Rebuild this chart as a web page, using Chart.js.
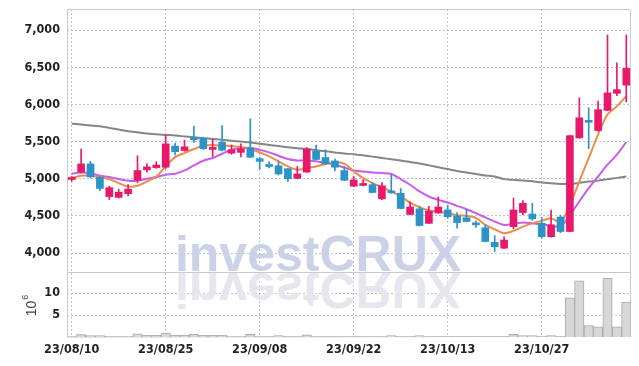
<!DOCTYPE html>
<html lang="en">
<head>
<meta charset="UTF-8">
<title>investCRUX daily chart</title>
<script src="https://cdn.jsdelivr.net/npm/chart.js"></script>
<style>
  html, body { margin: 0; padding: 0; background: #fff; }
  .ctn { width: 639px; height: 366px; }
</style>
</head>
<body>
<div class="ctn"><canvas id="myChart"></canvas></div>
<script>
// trading days, 23/08/10 .. 23/11/09
const dates = [
  '23/08/10','23/08/11','23/08/14','23/08/16','23/08/17','23/08/18','23/08/21','23/08/22','23/08/23','23/08/24',
  '23/08/25','23/08/28','23/08/29','23/08/30','23/08/31','23/09/01','23/09/04','23/09/05','23/09/06','23/09/07',
  '23/09/08','23/09/11','23/09/12','23/09/13','23/09/14','23/09/15','23/09/18','23/09/19','23/09/20','23/09/21',
  '23/09/22','23/09/25','23/09/26','23/09/27','23/10/04','23/10/05','23/10/06','23/10/10','23/10/11','23/10/12',
  '23/10/13','23/10/16','23/10/17','23/10/18','23/10/19','23/10/20','23/10/23','23/10/24','23/10/25','23/10/26',
  '23/10/27','23/10/30','23/10/31','23/11/01','23/11/02','23/11/03','23/11/06','23/11/07','23/11/08','23/11/09'
];
const opens  = [4990,5090,5200,5020,4760,4750,4800,4980,5120,5150, 5155,5440,5380,5545,5545,5395,5490,5345,5355,5415,
                5270,5190,5175,5135,5005,5090,5370,5285,5240,5110, 4900,4910,4920,4730,4820,4805,4520,4595,4400,4540,
                4580,4500,4475,4400,4340,4145,4065,4355,4545,4525, 4400,4220,4485,4290,5550,5770,5650,5920,6150,6260];
const highs  = [5030,5400,5235,5030,4900,4860,4920,5310,5200,5230, 5590,5480,5520,5710,5560,5530,5715,5455,5470,5805,
                5290,5230,5240,5140,5165,5420,5455,5390,5265,5165, 5030,4985,4950,4950,5055,4870,4690,4630,4630,4755,
                4645,4545,4580,4435,4380,4235,4220,4740,4705,4670, 4480,4580,4510,5585,6090,5955,6045,6935,6560,6935];
const lows   = [4965,5080,5010,4840,4720,4740,4770,4950,5090,5140, 5140,5320,5370,5490,5395,5300,5375,5330,5295,5285,
                5130,5145,5050,4960,5000,5085,5255,5195,5105,4975, 4895,4905,4810,4720,4805,4595,4515,4365,4395,4535,
                4470,4335,4420,4345,4150,4020,4060,4330,4515,4440, 4200,4215,4275,4285,5545,5405,5640,5915,6120,6035];
const closes = [5010,5200,5025,4870,4880,4820,4860,5110,5160,5185, 5470,5365,5430,5525,5405,5415,5385,5390,5405,5290,
                5235,5165,5065,5000,5065,5400,5260,5200,5155,4980, 4985,4935,4815,4905,4810,4600,4620,4370,4565,4620,
                4490,4410,4425,4380,4155,4085,4175,4580,4670,4460, 4220,4380,4290,5580,5820,5760,5930,6155,6200,6485];
// volume, in 10^6 shares
const volumes = [0.1,0.55,0.3,0.3,0.1,0.1,0.1,0.7,0.4,0.4, 0.9,0.4,0.4,0.6,0.4,0.4,0.4,0.1,0.1,0.6,
                 0.1,0.1,0.3,0.1,0.1,0.5,0.1,0.1,0.1,0.1, 0.1,0.1,0.1,0.1,0.3,0.1,0.1,0.3,0.1,0.1,
                 0.1,0.1,0.1,0.1,0.1,0.1,0.1,0.6,0.3,0.3, 0.1,0.3,0.1,8.9,12.8,2.6,2.3,13.4,2.3,7.95];
// moving averages
const maShort = [5009,5040,5040,5023,4996,4942,4896,4905,4964,5031, 5166,5292,5346,5400,5445,5453,5445,5440,5423,5400,
                 5355,5301,5234,5166,5121,5144,5166,5198,5220,5205, 5099,5009,4942,4888,4829,4761,4680,4618,4572,4554,
                 4537,4510,4500,4473,4379,4320,4267,4298,4356,4400, 4433,4469,4415,4649,4964,5279,5594,5864,5976,6111];
const maMid   = [5067,5085,5076,5040,5023,4996,4973,4973,5000,5023, 5054,5067,5112,5180,5243,5279,5337,5391,5414,5414,
                 5391,5355,5310,5266,5247,5247,5234,5220,5189,5150, 5112,5099,5085,5076,5065,4996,4919,4829,4761,4716,
                 4680,4635,4590,4537,4480,4424,4379,4392,4410,4400, 4388,4370,4356,4514,4694,4874,5031,5189,5324,5495];
const maLong  = [5742,5730,5718,5706,5685,5662,5640,5625,5610,5598, 5590,5582,5570,5558,5546,5536,5525,5512,5500,5488,
                 5470,5455,5440,5425,5412,5400,5385,5370,5355,5340, 5330,5315,5298,5280,5262,5245,5225,5205,5180,5155,
                 5130,5105,5085,5065,5045,5030,4995,4985,4975,4965, 4950,4940,4930,4930,4945,4962,4975,4995,5012,5031];
const priceTicks = [4000, 4500, 5000, 5500, 6000, 6500, 7000];
const volumeTicks = [5, 10];

const upColor = '#e8196b';
const downColor = '#2b93c8';
const candleColors = closes.map((c, i) => c >= opens[i] ? upColor : downColor);
const gridColor = 'rgba(175,182,208,0.8)';
const tickFont = { family: "'DejaVu Sans Condensed', 'DejaVu Sans', sans-serif", size: 12.5, weight: 'bold' };

const watermark = {
  id: 'watermark',
  beforeDatasetsDraw(chart) {
    const ctx = chart.ctx;
    const yb = chart.scales.y.bottom;
    const cx = 318;
    ctx.save();
    ctx.font = "bold 50px 'Liberation Sans', Arial, sans-serif";
    ctx.textAlign = 'center';
    ctx.textBaseline = 'alphabetic';
    ctx.fillStyle = 'rgb(203,210,231)';
    ctx.fillText('investCRUX', cx, yb - 1);
    // reflection
    ctx.beginPath();
    ctx.rect(chart.chartArea.left, yb, chart.chartArea.width, chart.chartArea.bottom - yb);
    ctx.clip();
    ctx.translate(0, 2 * yb + 1);
    ctx.scale(1, -1);
    ctx.fillStyle = 'rgb(229,230,238)';
    ctx.fillText('investCRUX', cx, yb);
    ctx.restore();
  }
};

const frame = {
  id: 'frame',
  beforeDatasetsDraw(chart) {
    const { ctx, chartArea: a } = chart;
    const sep = chart.scales.y.bottom;
    ctx.save();
    ctx.strokeStyle = '#c9c9c9';
    ctx.lineWidth = 1;
    ctx.beginPath();
    ctx.moveTo(a.left + 0.5, a.top + 0.5);
    ctx.lineTo(a.right - 0.5, a.top + 0.5);
    ctx.lineTo(a.right - 0.5, a.bottom - 0.5);
    ctx.moveTo(a.left + 0.5, a.top);
    ctx.lineTo(a.left + 0.5, a.bottom);
    ctx.lineTo(a.right, a.bottom - 0.5);
    ctx.moveTo(a.left, sep + 0.5);
    ctx.lineTo(a.right, sep + 0.5);
    ctx.stroke();
    ctx.restore();
  },
  afterDraw(chart) {
    // 10^6 unit label of the volume axis
    const ctx = chart.ctx;
    const yv = chart.scales.yv;
    ctx.save();
    ctx.translate(32, (yv.top + yv.bottom) / 2 + 1);
    ctx.rotate(-Math.PI / 2);
    ctx.fillStyle = '#444';
    ctx.textBaseline = 'middle';
    ctx.font = "14px 'Liberation Sans', sans-serif";
    const w = ctx.measureText('10').width;
    ctx.fillText('10', -w / 2 - 3, 0);
    ctx.font = "9px 'Liberation Sans', sans-serif";
    ctx.fillText('6', w / 2 - 2, -6);
    ctx.restore();
  }
};

function noEndPadding(s) {
  s.width = 67;
  s.paddingTop = 0;
  s.paddingBottom = 0;
}

new Chart(document.getElementById('myChart'), {
  data: {
    labels: dates,
    datasets: [
      { type: 'bar', data: opens.map((o, i) => [o, closes[i]]), backgroundColor: candleColors,
        barThickness: 7, minBarLength: 2, grouped: false, yAxisID: 'y', order: 1 },
      { type: 'bar', data: lows.map((l, i) => [l, highs[i]]), backgroundColor: candleColors,
        barThickness: 1, grouped: false, yAxisID: 'y', order: 2 },
      { type: 'line', data: maShort, borderColor: '#f08a4b', borderWidth: 2, pointRadius: 0, tension: 0.3, yAxisID: 'y', order: 3 },
      { type: 'line', data: maMid, borderColor: '#c95bea', borderWidth: 2, pointRadius: 0, tension: 0.3, yAxisID: 'y', order: 4 },
      { type: 'line', data: maLong, borderColor: '#858585', borderWidth: 2, pointRadius: 0, tension: 0.3, yAxisID: 'y', order: 5 },
      { type: 'bar', data: volumes, backgroundColor: '#d7d7d7', borderColor: '#a9a9a9', borderWidth: 1,
        categoryPercentage: 1, barPercentage: 1, grouped: false, yAxisID: 'yv', order: 6 }
    ]
  },
  options: {
    responsive: true,
    maintainAspectRatio: false,
    animation: false,
    layout: { padding: { top: 9, right: 8, left: 0, bottom: 0 } },
    plugins: { legend: { display: false }, tooltip: { enabled: false } },
    scales: {
      x: {
        type: 'category',
        offset: true,
        grid: { color: gridColor, drawTicks: false, offset: false },
        border: { display: false, dash: [2, 2] },
        ticks: {
          autoSkip: false, maxRotation: 0, padding: 5, color: '#222', font: tickFont,
          callback(v, i) { return i % 10 === 0 ? this.getLabelForValue(v) : null; }
        },
        afterFit(s) { s.height = 29; }
      },
      y: {
        type: 'linear', position: 'left', stack: 'panes', stackWeight: 263, weight: 2,
        min: 3745, max: 7285,
        grid: { color: gridColor, drawTicks: false },
        border: { display: false, dash: [2, 2] },
        ticks: { stepSize: 500, padding: 7, color: '#222', font: tickFont,
                 callback: v => v.toLocaleString('en-US') },
        afterBuildTicks(s) { s.ticks = priceTicks.map(v => ({ value: v })); },
        afterFit: noEndPadding
      },
      yv: {
        type: 'linear', position: 'left', stack: 'panes', stackWeight: 65, weight: 1,
        min: 0, max: 14.8,
        grid: { color: gridColor, drawTicks: false },
        border: { display: false, dash: [2, 2] },
        ticks: { stepSize: 5, padding: 7, color: '#222', font: tickFont },
        afterBuildTicks(s) { s.ticks = volumeTicks.map(v => ({ value: v })); },
        afterFit: noEndPadding
      }
    }
  },
  plugins: [watermark, frame]
});
</script>
</body>
</html>
